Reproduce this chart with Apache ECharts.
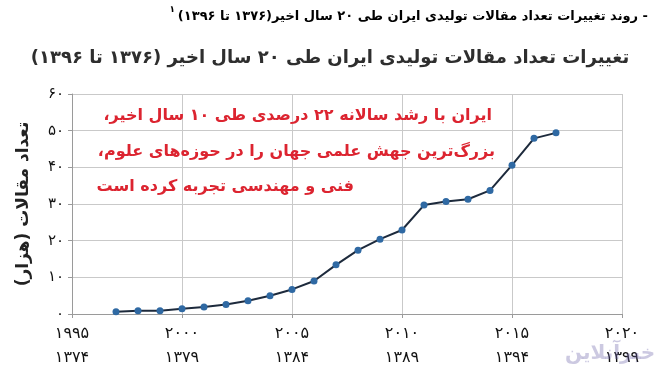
<!DOCTYPE html>
<html>
<head>
<meta charset="utf-8">
<script src="https://cdn.jsdelivr.net/npm/echarts@6/dist/echarts.min.js"></script>
<style>
html,body{margin:0;padding:0;background:#fff;}
#chart{width:660px;height:390px;}
</style>
</head>
<body>
<div id="chart" dir="rtl"></div>
<script>
// Data (thousand articles per year)
const years = [1997,1998,1999,2000,2001,2002,2003,2004,2005,2006,2007,2008,2009,2010,2011,2012,2013,2014,2015,2016,2017];
const articles = [0.6,0.9,0.9,1.4,1.9,2.6,3.6,5.0,6.7,9.0,13.4,17.4,20.4,22.9,29.7,30.7,31.3,33.7,40.6,47.9,49.4];
const xTickGregorian = ['۱۹۹۵','۲۰۰۰','۲۰۰۵','۲۰۱۰','۲۰۱۵','۲۰۲۰'];
const xTickSolar = ['۱۳۷۴','۱۳۷۹','۱۳۸۴','۱۳۸۹','۱۳۹۴','۱۳۹۹'];
const yTickLabels = ['۰','۱۰','۲۰','۳۰','۴۰','۵۰','۶۰'];
const topTitle = '- روند تغییرات تعداد مقالات تولیدی ایران طی ۲۰ سال اخیر(۱۳۷۶ تا ۱۳۹۶)';
const chartTitle = 'تغییرات تعداد مقالات تولیدی ایران طی ۲۰ سال اخیر (۱۳۷۶ تا ۱۳۹۶)';
const yName = 'تعداد مقالات (هزار)';
const noteLines = ['ایران با رشد سالانه ۲۲ درصدی طی ۱۰ سال اخیر،','بزرگ‌ترین جهش علمی جهان را در حوزه‌های علوم،','فنی و مهندسی تجربه کرده است'];

const FONT = '"DejaVu Sans", "Noto Sans", sans-serif';
const chart = echarts.init(document.getElementById('chart'), null, {renderer:'canvas'});
const option = {
  animation:false,
  backgroundColor:'#ffffff',
  grid:{left:72, right:38, top:94, bottom:76},
  xAxis:{
    type:'value', min:1995, max:2020, interval:5,
    axisLine:{show:true, lineStyle:{color:'#9a9a9a', width:1}},
    axisTick:{show:true, length:4, lineStyle:{color:'#9a9a9a'}},
    splitLine:{show:true, lineStyle:{color:'#c9c9c9', width:1}},
    axisLabel:{
      margin:8, color:'#111', fontSize:16, fontFamily:FONT, lineHeight:24,
      formatter:function(v){const i=Math.round((v-1995)/5);return xTickGregorian[i]+'\n'+xTickSolar[i];}
    }
  },
  yAxis:{
    type:'value', min:0, max:60, interval:10,
    name:yName, nameLocation:'middle', nameGap:40, nameRotate:90,
    nameTextStyle:{color:'#222', fontSize:17, fontWeight:'bold', fontFamily:FONT},
    axisLine:{show:true, lineStyle:{color:'#9a9a9a', width:1}},
    axisTick:{show:true, length:4, lineStyle:{color:'#9a9a9a'}},
    splitLine:{show:true, lineStyle:{color:'#c9c9c9', width:1}},
    axisLabel:{
      margin:8, color:'#111', fontSize:15, fontFamily:FONT,
      formatter:function(v){return yTickLabels[Math.round(v/10)];}
    }
  },
  series:[{
    type:'line',
    data:years.map((y,i)=>[y,articles[i]]),
    symbol:'circle', symbolSize:7,
    lineStyle:{color:'#1d2a3c', width:2},
    itemStyle:{color:'#2f69a3'},
    z:5
  }],
  graphic:[
    {type:'text', x:648, y:17, style:{text:topTitle, fill:'#000', font:'bold 13px '+FONT, textAlign:'right', textVerticalAlign:'middle'}},
    {type:'text', x:175, y:10, style:{text:'۱', fill:'#000', font:'bold 9px '+FONT, textAlign:'right', textVerticalAlign:'middle'}},
    {type:'text', x:330, y:58, style:{text:chartTitle, fill:'#2e2e2e', font:'bold 18px '+FONT, textAlign:'center', textVerticalAlign:'middle'}},
    {type:'text', x:492, y:116, z:10, style:{text:noteLines[0], fill:'#dc2430', font:'bold 16px '+FONT, textAlign:'right', textVerticalAlign:'middle'}},
    {type:'text', x:495, y:152, z:10, style:{text:noteLines[1], fill:'#dc2430', font:'bold 16px '+FONT, textAlign:'right', textVerticalAlign:'middle'}},
    {type:'text', x:354, y:187, z:10, style:{text:noteLines[2], fill:'#dc2430', font:'bold 16px '+FONT, textAlign:'right', textVerticalAlign:'middle'}},
    {type:'text', x:610, y:354, z:20, style:{text:'خبرآنلاین', fill:'rgba(110,100,170,0.35)', font:'bold 20px '+FONT, textAlign:'center', textVerticalAlign:'middle'}}
  ]
};
chart.setOption(option);
</script>
</body>
</html>
